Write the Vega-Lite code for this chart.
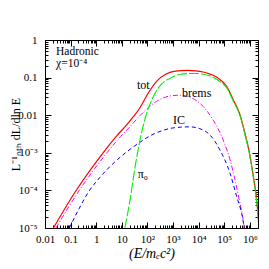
{
  "$schema": "https://vega.github.io/schema/vega-lite/v6.json",
  "width": 213,
  "height": 188,
  "autosize": {"type": "none"},
  "padding": {"left": 45, "top": 40, "right": 11, "bottom": 41},
  "background": "white",
  "config": {"view": {"stroke": "black", "strokeWidth": 1}, "axis": {"grid": false, "domain": false}},
  "datasets": {
    "curves": [
      {"s": "tot", "x": 0.0214, "y": 0.00001},
      {"s": "tot", "x": 0.148, "y": 0.0000891},
      {"s": "tot", "x": 1.862, "y": 0.001},
      {"s": "tot", "x": 6.31, "y": 0.00282},
      {"s": "tot", "x": 15.85, "y": 0.00562},
      {"s": "tot", "x": 28.2, "y": 0.00912},
      {"s": "tot", "x": 51.3, "y": 0.0158},
      {"s": "tot", "x": 100, "y": 0.0355},
      {"s": "tot", "x": 229, "y": 0.0794},
      {"s": "tot", "x": 562, "y": 0.126},
      {"s": "tot", "x": 1259, "y": 0.148},
      {"s": "tot", "x": 3388, "y": 0.155},
      {"s": "tot", "x": 7943, "y": 0.151},
      {"s": "tot", "x": 15136, "y": 0.141},
      {"s": "tot", "x": 31623, "y": 0.12},
      {"s": "tot", "x": 51286, "y": 0.102},
      {"s": "tot", "x": 125893, "y": 0.0575},
      {"s": "tot", "x": 229087, "y": 0.0251},
      {"s": "tot", "x": 416869, "y": 0.0102},
      {"s": "tot", "x": 645654, "y": 0.00331},
      {"s": "tot", "x": 954993, "y": 0.00105},
      {"s": "tot", "x": 1380000, "y": 0.000234},
      {"s": "tot", "x": 1862000, "y": 0.000055},
      {"s": "tot", "x": 2239000, "y": 0.0000126},
      {"s": "brems", "x": 0.0269, "y": 0.00001},
      {"s": "brems", "x": 0.209, "y": 0.0000955},
      {"s": "brems", "x": 2.63, "y": 0.001},
      {"s": "brems", "x": 8.91, "y": 0.00269},
      {"s": "brems", "x": 19.95, "y": 0.00479},
      {"s": "brems", "x": 43.7, "y": 0.00871},
      {"s": "brems", "x": 100, "y": 0.0151},
      {"s": "brems", "x": 229, "y": 0.0234},
      {"s": "brems", "x": 759, "y": 0.0324},
      {"s": "brems", "x": 1862, "y": 0.0339},
      {"s": "brems", "x": 4571, "y": 0.0302},
      {"s": "brems", "x": 15136, "y": 0.017},
      {"s": "brems", "x": 37154, "y": 0.00741},
      {"s": "brems", "x": 91201, "y": 0.00219},
      {"s": "brems", "x": 169824, "y": 0.000646},
      {"s": "brems", "x": 263027, "y": 0.000191},
      {"s": "brems", "x": 389045, "y": 0.000055},
      {"s": "brems", "x": 562341, "y": 0.0000148},
      {"s": "brems", "x": 630957, "y": 0.0000079},
      {"s": "IC", "x": 0.0891, "y": 0.00001},
      {"s": "IC", "x": 0.209, "y": 0.0000316},
      {"s": "IC", "x": 0.49, "y": 0.0000891},
      {"s": "IC", "x": 1.413, "y": 0.000224},
      {"s": "IC", "x": 5.01, "y": 0.00055},
      {"s": "IC", "x": 15.85, "y": 0.00107},
      {"s": "IC", "x": 51.3, "y": 0.00191},
      {"s": "IC", "x": 125.9, "y": 0.00282},
      {"s": "IC", "x": 309, "y": 0.0037},
      {"s": "IC", "x": 794, "y": 0.00447},
      {"s": "IC", "x": 1862, "y": 0.00479},
      {"s": "IC", "x": 4571, "y": 0.0049},
      {"s": "IC", "x": 11220, "y": 0.00437},
      {"s": "IC", "x": 28184, "y": 0.00295},
      {"s": "IC", "x": 69183, "y": 0.00117},
      {"s": "IC", "x": 169824, "y": 0.000282},
      {"s": "IC", "x": 309030, "y": 0.0000676},
      {"s": "IC", "x": 478630, "y": 0.0000245},
      {"s": "IC", "x": 630957, "y": 0.0000089},
      {"s": "pi0", "x": 13.18, "y": 0.00001},
      {"s": "pi0", "x": 20.9, "y": 0.000055},
      {"s": "pi0", "x": 33.1, "y": 0.000427},
      {"s": "pi0", "x": 51.3, "y": 0.00219},
      {"s": "pi0", "x": 93.3, "y": 0.0112},
      {"s": "pi0", "x": 169.8, "y": 0.0309},
      {"s": "pi0", "x": 309, "y": 0.0603},
      {"s": "pi0", "x": 759, "y": 0.0955},
      {"s": "pi0", "x": 2512, "y": 0.126},
      {"s": "pi0", "x": 8511, "y": 0.129},
      {"s": "pi0", "x": 28184, "y": 0.11},
      {"s": "pi0", "x": 69183, "y": 0.0776},
      {"s": "pi0", "x": 125893, "y": 0.0537},
      {"s": "pi0", "x": 229087, "y": 0.0234},
      {"s": "pi0", "x": 416869, "y": 0.00955},
      {"s": "pi0", "x": 645654, "y": 0.00309},
      {"s": "pi0", "x": 954993, "y": 0.000977},
      {"s": "pi0", "x": 1380000, "y": 0.000219},
      {"s": "pi0", "x": 1862000, "y": 0.0000501},
      {"s": "pi0", "x": 2239000, "y": 0.0000112}
    ],
    "curveLabels": [
      {"label": "tot", "x": 39.3, "y": 0.0636},
      {"label": "brems", "x": 2240, "y": 0.039},
      {"label": "IC", "x": 1000, "y": 0.00745},
      {"label": "π₀", "x": 42, "y": 0.000273}
    ],
    "boxText": [
      {"label": "Hadronic", "x": 0.027, "y": 0.48},
      {"label": "χ=10⁻⁴", "x": 0.027, "y": 0.23}
    ]
  },
  "resolve": {"axis": {"x": "independent", "y": "independent"}},
  "layer": [
    {
      "data": {"name": "curves"},
      "transform": [{"filter": "datum.s == 'tot'"}],
      "mark": {"type": "line", "color": "#ff0000", "strokeWidth": 1.2, "clip": true, "interpolate": "monotone"},
      "encoding": {
        "x": {"field": "x", "type": "quantitative", "scale": {"type": "log", "domain": [0.01, 2090000], "nice": false},
          "axis": {"orient": "bottom", "values": [0.01, 0.1, 1, 10, 100, 1000, 10000, 100000, 1000000], "ticks": false, "domain": false,
            "labelExpr": "['0.01','0.1','1','10','10²','10³','10⁴','10⁵','10⁶'][round(log(datum.value)/LN10)+2]",
            "labelFont": "Liberation Serif", "labelFontSize": 11, "labelColor": "black", "labelPadding": 5, "labelFlush": false, "labelOverlap": false,
            "title": "(E/mₑc²)", "titleFont": "Liberation Serif", "titleFontStyle": "italic", "titleFontWeight": "normal", "titleFontSize": 14, "titleColor": "black",
            "titleX": 106.5, "titleY": 25, "titleBaseline": "middle", "titleAlign": "center"}},
        "y": {"field": "y", "type": "quantitative", "scale": {"type": "log", "domain": [0.00001, 1], "nice": false},
          "axis": {"orient": "left", "values": [0.00001, 0.0001, 0.001, 0.01, 0.1, 1], "ticks": false, "domain": false,
            "labelExpr": "['10⁻⁵','10⁻⁴','10⁻³','0.01','0.1','1'][round(log(datum.value)/LN10)+5]",
            "labelFont": "Liberation Serif", "labelFontSize": 11, "labelColor": "black", "labelPadding": 8, "labelFlush": false, "labelOverlap": false,
            "title": "L⁻¹ₙₜₕ dL/dln E", "titleFont": "Liberation Serif", "titleFontWeight": "normal", "titleFontSize": 12, "titleColor": "black",
            "titleX": -30, "titleY": 94, "titleAngle": -90, "titleBaseline": "middle", "titleAlign": "center"}}
      }
    },
    {
      "data": {"name": "curves"},
      "transform": [{"filter": "datum.s == 'brems'"}],
      "mark": {"type": "line", "color": "#ff00ff", "strokeWidth": 1, "strokeDash": [5, 2, 1, 2], "clip": true, "interpolate": "monotone"},
      "encoding": {
        "x": {"field": "x", "type": "quantitative", "scale": {"type": "log", "domain": [0.01, 2090000], "nice": false},
          "axis": {"orient": "bottom", "values": [0.01, 0.1, 1, 10, 100, 1000, 10000, 100000, 1000000], "labels": false, "domain": false, "tickSize": -6, "tickColor": "black", "title": null}},
        "y": {"field": "y", "type": "quantitative", "scale": {"type": "log", "domain": [0.00001, 1], "nice": false},
          "axis": {"orient": "left", "values": [0.00001, 0.0001, 0.001, 0.01, 0.1, 1], "labels": false, "domain": false, "tickSize": -6, "tickColor": "black", "title": null}}
      }
    },
    {
      "data": {"name": "curves"},
      "transform": [{"filter": "datum.s == 'IC'"}],
      "mark": {"type": "line", "color": "#0000ff", "strokeWidth": 1, "strokeDash": [4, 3], "clip": true, "interpolate": "monotone"},
      "encoding": {
        "x": {"field": "x", "type": "quantitative", "scale": {"type": "log", "domain": [0.01, 2090000], "nice": false},
          "axis": {"orient": "bottom", "values": [0.02,0.03,0.04,0.05,0.06,0.07,0.08,0.09,0.2,0.3,0.4,0.5,0.6,0.7,0.8,0.9,2,3,4,5,6,7,8,9,20,30,40,50,60,70,80,90,200,300,400,500,600,700,800,900,2000,3000,4000,5000,6000,7000,8000,9000,20000,30000,40000,50000,60000,70000,80000,90000,200000,300000,400000,500000,600000,700000,800000,900000,2000000], "labels": false, "domain": false, "tickSize": -3, "tickColor": "black", "title": null}},
        "y": {"field": "y", "type": "quantitative", "scale": {"type": "log", "domain": [0.00001, 1], "nice": false},
          "axis": {"orient": "left", "values": [0.00002,0.00003,0.00004,0.00005,0.00006,0.00007,0.00008,0.00009,0.0002,0.0003,0.0004,0.0005,0.0006,0.0007,0.0008,0.0009,0.002,0.003,0.004,0.005,0.006,0.007,0.008,0.009,0.02,0.03,0.04,0.05,0.06,0.07,0.08,0.09,0.2,0.3,0.4,0.5,0.6,0.7,0.8,0.9], "labels": false, "domain": false, "tickSize": -3, "tickColor": "black", "title": null}}
      }
    },
    {
      "data": {"name": "curves"},
      "transform": [{"filter": "datum.s == 'pi0'"}],
      "mark": {"type": "line", "color": "#00ee00", "strokeWidth": 1.1, "strokeDash": [10, 2], "clip": true, "interpolate": "monotone"},
      "encoding": {
        "x": {"field": "x", "type": "quantitative", "scale": {"type": "log", "domain": [0.01, 2090000], "nice": false},
          "axis": {"orient": "top", "values": [0.01, 0.1, 1, 10, 100, 1000, 10000, 100000, 1000000], "labels": false, "domain": false, "tickSize": -6, "tickColor": "black", "title": null}},
        "y": {"field": "y", "type": "quantitative", "scale": {"type": "log", "domain": [0.00001, 1], "nice": false},
          "axis": {"orient": "right", "values": [0.00001, 0.0001, 0.001, 0.01, 0.1, 1], "labels": false, "domain": false, "tickSize": -6, "tickColor": "black", "title": null}}
      }
    },
    {
      "data": {"name": "curveLabels"},
      "mark": {"type": "text", "align": "left", "baseline": "middle", "font": "Liberation Serif", "fontSize": 12, "color": "black"},
      "encoding": {
        "text": {"field": "label"},
        "x": {"field": "x", "type": "quantitative", "scale": {"type": "log", "domain": [0.01, 2090000], "nice": false},
          "axis": {"orient": "top", "values": [0.02,0.03,0.04,0.05,0.06,0.07,0.08,0.09,0.2,0.3,0.4,0.5,0.6,0.7,0.8,0.9,2,3,4,5,6,7,8,9,20,30,40,50,60,70,80,90,200,300,400,500,600,700,800,900,2000,3000,4000,5000,6000,7000,8000,9000,20000,30000,40000,50000,60000,70000,80000,90000,200000,300000,400000,500000,600000,700000,800000,900000,2000000], "labels": false, "domain": false, "tickSize": -3, "tickColor": "black", "title": null}},
        "y": {"field": "y", "type": "quantitative", "scale": {"type": "log", "domain": [0.00001, 1], "nice": false},
          "axis": {"orient": "right", "values": [0.00002,0.00003,0.00004,0.00005,0.00006,0.00007,0.00008,0.00009,0.0002,0.0003,0.0004,0.0005,0.0006,0.0007,0.0008,0.0009,0.002,0.003,0.004,0.005,0.006,0.007,0.008,0.009,0.02,0.03,0.04,0.05,0.06,0.07,0.08,0.09,0.2,0.3,0.4,0.5,0.6,0.7,0.8,0.9], "labels": false, "domain": false, "tickSize": -3, "tickColor": "black", "title": null}}
      }
    },
    {
      "data": {"name": "boxText"},
      "mark": {"type": "text", "align": "left", "baseline": "middle", "font": "Liberation Serif", "fontSize": 11.5, "color": "black"},
      "encoding": {
        "text": {"field": "label"},
        "x": {"field": "x", "type": "quantitative", "scale": {"type": "log", "domain": [0.01, 2090000], "nice": false}, "axis": null},
        "y": {"field": "y", "type": "quantitative", "scale": {"type": "log", "domain": [0.00001, 1], "nice": false}, "axis": null}
      }
    }
  ]
}
